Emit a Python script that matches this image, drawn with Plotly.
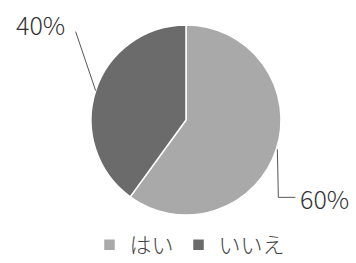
import math
import plotly.graph_objects as go

labels = ["はい", "いいえ"]
values = [60, 40]
pct_text = ["60%", "40%"]
colors = ["#a9a9a9", "#6b6b6b"]

W, H = 356, 263
cx, cy, r = 186, 120, 95  # pie center / radius in pixels (layout)

def px(x):
    return x / W

def py(y):
    return 1 - y / H

fig = go.Figure(go.Pie(
    labels=labels, values=values, sort=False, direction="clockwise", rotation=0,
    textinfo="none", hoverinfo="none",
    marker=dict(colors=colors, line=dict(color="white", width=1.5)),
    domain=dict(x=[px(cx - r), px(cx + r)], y=[py(cy + r), py(cy - r)]),
))

lab_font = dict(size=25, color="#333333", family="Noto Sans CJK JP", weight=300)

total = sum(values)
cum = 0
shapes = []
annotations = []
for i, v in enumerate(values):
    mid = (cum + v / 2) / total * 2 * math.pi
    cum += v
    ex = cx + r * math.sin(mid)
    ey = cy - r * math.cos(mid)
    if math.sin(mid) > 0:
        bx, by = ex + 2, ey + 48
        tx = bx + 17
        shapes.append(dict(type="line", xref="paper", yref="paper",
                           x0=px(ex + 1), y0=py(ey), x1=px(bx), y1=py(by),
                           line=dict(color="#555", width=1)))
        shapes.append(dict(type="line", xref="paper", yref="paper",
                           x0=px(bx), y0=py(by), x1=px(tx), y1=py(by),
                           line=dict(color="#555", width=1)))
        annotations.append(dict(x=px(tx + 3), y=py(by + 1), xref="paper", yref="paper",
                                text=pct_text[i], showarrow=False, xanchor="left",
                                yanchor="middle", font=lab_font))
    else:
        bx, by = ex - 20, ey - 59
        shapes.append(dict(type="line", xref="paper", yref="paper",
                           x0=px(ex), y0=py(ey), x1=px(bx), y1=py(by),
                           line=dict(color="#555", width=1)))
        annotations.append(dict(x=px(bx - 9), y=py(by - 8), xref="paper", yref="paper",
                                text=pct_text[i], showarrow=False, xanchor="right",
                                yanchor="middle", font=lab_font))

fig.update_layout(
    width=W, height=H,
    margin=dict(l=0, r=0, t=0, b=0, autoexpand=False),
    paper_bgcolor="white", plot_bgcolor="white",
    showlegend=True,
    legend=dict(orientation="h", x=px(190), xanchor="center", y=py(245), yanchor="middle",
                font=dict(size=22, color="#444", family="Noto Sans CJK JP", weight=300),
                itemwidth=30, traceorder="normal", tracegroupgap=0),
    shapes=shapes, annotations=annotations,
)

fig.write_html("out.html", config={"displayModeBar": False},
               post_script="document.body.style.margin='0';document.body.style.padding='0';")
